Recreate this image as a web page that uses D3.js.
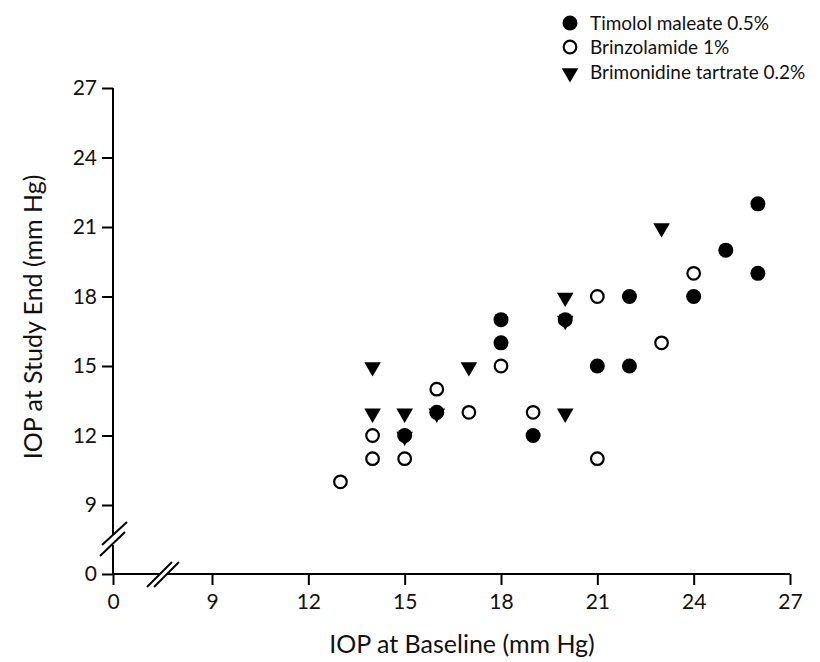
<!DOCTYPE html>
<html><head><meta charset="utf-8">
<script src="https://cdn.jsdelivr.net/npm/d3@7"></script>
<style>body{margin:0;background:#fff}svg{display:block}text{font-family:Lato,"Open Sans",sans-serif;fill:#111}</style>
</head><body><svg id="c" width="820" height="662"></svg>
<script>
const seriesNames = ["Timolol maleate 0.5%", "Brinzolamide 1%", "Brimonidine tartrate 0.2%"];
const timololX = [15,16,18,18,19,20,21,22,22,24,25,26,26];
const timololY = [12,13,17,16,12,17,15,18,15,18,20,22,19];
const brinzX = [13,14,14,15,16,17,18,19,21,21,23,24];
const brinzY = [10,12,11,11,14,13,15,13,18,11,16,19];
const brimoX = [14,14,15,15,16,17,20,20,20,23];
const brimoY = [15,13,13,12,13,15,18,17,13,21];
const xTicks = [0,9,12,15,18,21,24,27];
const yTicks = [0,9,12,15,18,21,24,27];

const svg = d3.select("#c");
const x = d3.scaleLinear().domain([0,9,27]).range([113,212,790]);
const y = d3.scaleLinear().domain([0,9,27]).range([574,505,88]);
const sw = 2;

// x axis
const xa = svg.append("g").attr("transform",`translate(0,${y(0)})`)
  .call(d3.axisBottom(x).tickValues(xTicks).tickSize(11).tickPadding(9).tickFormat(d3.format("d")));
xa.select(".domain").remove();
xa.selectAll(".tick line").attr("stroke","#000").attr("stroke-width",sw);
xa.selectAll(".tick text").attr("font-size",21).attr("fill","#111");
// y axis
const ya = svg.append("g").attr("transform",`translate(${x(0)},0)`)
  .call(d3.axisLeft(y).tickValues(yTicks).tickSize(11).tickPadding(5).tickFormat(d3.format("d")));
ya.select(".domain").remove();
ya.selectAll(".tick line").attr("stroke","#000").attr("stroke-width",sw);
ya.selectAll(".tick text").attr("font-size",21).attr("fill","#111");

// axis lines with breaks
const X0 = x(0), Y0 = y(0);
const seg = (x1,y1,x2,y2)=>svg.append("line").attr("x1",x1).attr("y1",y1).attr("x2",x2).attr("y2",y2).attr("stroke","#000").attr("stroke-width",sw);
seg(X0, y(27), X0, 535);
seg(X0, 545, X0, Y0);
seg(X0-1, Y0, 160, Y0);
seg(167, Y0, x(27), Y0);
// break marks
seg(102,545,127,522); seg(100,556,125,532);
seg(147,587,172,562); seg(154,587,179,562);

// titles
svg.append("text").attr("x",462).attr("y",653).attr("text-anchor","middle").attr("font-size",25).text("IOP at Baseline (mm Hg)");
svg.append("text").attr("transform","translate(42,317) rotate(-90)").attr("text-anchor","middle").attr("font-size",25).text("IOP at Study End (mm Hg)");

// markers
const tri = d3.symbol().type(d3.symbolTriangle).size(120);
const g = svg.append("g");
g.selectAll(".tri").data(brimoX.map((v,i)=>[v,brimoY[i]])).enter().append("path")
  .attr("d",tri).attr("transform",d=>`translate(${x(d[0])},${y(d[1])+1}) rotate(180)`).attr("fill","#000");
g.selectAll(".fc").data(timololX.map((v,i)=>[v,timololY[i]])).enter().append("circle")
  .attr("cx",d=>x(d[0])).attr("cy",d=>y(d[1])).attr("r",7.5).attr("fill","#000");
g.selectAll(".oc").data(brinzX.map((v,i)=>[v,brinzY[i]])).enter().append("circle")
  .attr("cx",d=>x(d[0])).attr("cy",d=>y(d[1])).attr("r",6.3).attr("fill","#fff").attr("stroke","#000").attr("stroke-width",2.2);

// legend
const lg = svg.append("g");
const ly = [23,47,72];
lg.append("circle").attr("cx",570).attr("cy",ly[0]).attr("r",7.5).attr("fill","#000");
lg.append("circle").attr("cx",570).attr("cy",ly[1]).attr("r",6.3).attr("fill","#fff").attr("stroke","#000").attr("stroke-width",2.2);
lg.append("path").attr("d",tri).attr("transform",`translate(570,${ly[2]+1}) rotate(180)`).attr("fill","#000");
seriesNames.forEach((n,i)=>lg.append("text").attr("x",590).attr("y",ly[i]+7).attr("font-size",19).text(n));
</script></body></html>
